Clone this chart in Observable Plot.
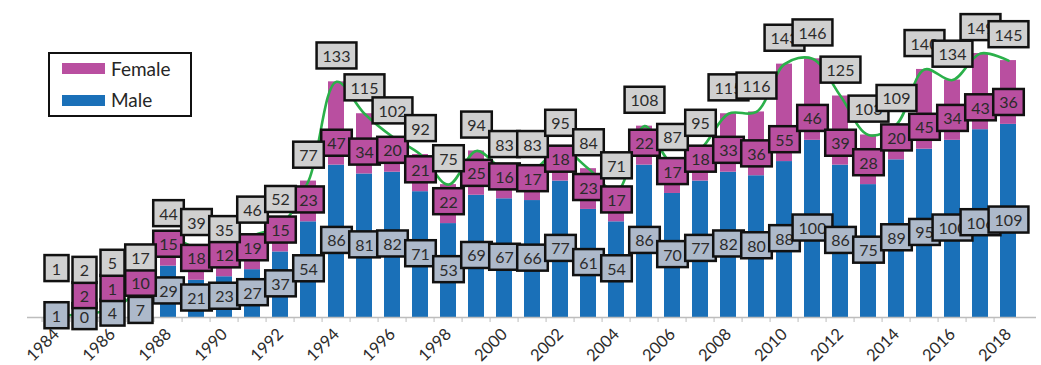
<!DOCTYPE html>
<html>
<head>
<meta charset="utf-8">
<script src="https://cdn.jsdelivr.net/npm/d3@7"></script>
<script src="https://cdn.jsdelivr.net/npm/@observablehq/plot@0.6"></script>
<style>
  body { margin: 0; background: #fff; }
  #wrap { position: relative; width: 1041px; height: 365px; }
  #legend { position: absolute; left: 48px; top: 52px; width: 140px; height: 61px;
            border: 2px solid #111; background: #fff; font-family: Lato, sans-serif;
            font-size: 19px; color: #262626; }
  .sw { position: absolute; left: 12px; width: 43px; height: 11px; }
  .lt { position: absolute; left: 61px; line-height: 1; }
</style>
</head>
<body>
<div id="wrap">
  <div id="chart"></div>
  <div id="legend">
    <div class="sw" id="swF" style="top:9px"></div><div class="lt" style="top:5px">Female</div>
    <div class="sw" id="swM" style="top:41px"></div><div class="lt" style="top:36px">Male</div>
  </div>
</div>
<script>
const years  = [1984,1985,1986,1987,1988,1989,1990,1991,1992,1993,1994,1995,1996,1997,1998,1999,2000,2001,2002,2003,2004,2005,2006,2007,2008,2009,2010,2011,2012,2013,2014,2015,2016,2017,2018];
const male   = [1,0,4,7,29,21,23,27,37,54,86,81,82,71,53,69,67,66,77,61,54,86,70,77,82,80,88,100,86,75,89,95,100,106,109];
const female = [0,2,1,10,15,18,12,19,15,23,47,34,20,21,22,25,16,17,18,23,17,22,17,18,33,36,55,46,39,28,20,45,34,43,36];
const totals = [1,2,5,17,44,39,35,46,52,77,133,115,102,92,75,94,83,83,95,84,71,108,87,95,115,116,143,146,125,103,109,140,134,149,145];
const seriesNames = ["Female", "Male"];

const BLUE = "#1a70b8", MAGENTA = "#b94fa0", GREEN = "#2bb04a";
const GRAY_BOX = "#d0d0d0", MALE_BOX = "#adb9ca", FEMALE_BOX = "#b94fa0";

const rows = years.map((yr, i) => ({year: String(yr), male: male[i], female: female[i], total: totals[i]}));

const W = 1041, ML = 27, MR = 5;
const step = (W - ML - MR) / years.length;

const chart = Plot.plot({
  width: W, height: 365,
  marginLeft: ML, marginRight: MR, marginTop: 33.5, marginBottom: 48,
  style: {fontFamily: "Lato, sans-serif", fontSize: "16px", color: "#2b2b2b", background: "#fff", overflow: "visible"},
  x: {type: "band", domain: years.map(String), paddingInner: 0.43, paddingOuter: 0.215, label: null},
  y: {domain: [0, 160], axis: null},
  marks: [
    Plot.barY(rows, {x: "year", y1: 0, y2: "male", fill: BLUE}),
    Plot.barY(rows, {x: "year", y1: "male", y2: "total", fill: MAGENTA}),
    Plot.ruleY([0], {stroke: "#bdbdbd", strokeWidth: 1.3}),
    Plot.axisX({tickSize: 5, text: null, dx: -step / 2, stroke: "#bdbdbd"}),
    Plot.line(rows, {x: "year", y: "total", stroke: GREEN, strokeWidth: 2.6, curve: "catmull-rom"}),
    Plot.text(rows, {x: "year", y: d => d.male / 2, text: "male", fill: "#2b2b2b", fontSize: 16}),
    Plot.text(rows.filter(d => d.female > 0), {x: "year", y: "male", dy: -21, text: "female", fill: "#2b2b2b", fontSize: 16}),
    Plot.text(rows, {x: "year", y: d => Math.max(d.total, d.male + 12), dy: -25, text: "total", fill: "#2b2b2b", fontSize: 16}),
    Plot.axisX({ticks: years.filter(y => y % 2 === 0).map(String), tickSize: 0, tickPadding: 14,
                tickRotate: -45, fontSize: 16.5, fill: "#2b2b2b"})
  ]
});

document.getElementById("chart").append(chart);
document.getElementById("swF").style.background = MAGENTA;
document.getElementById("swM").style.background = BLUE;

function boxLabels(g, fill) {
  if (!g) return;
  for (const t of Array.from(g.querySelectorAll("text"))) {
    const b = t.getBBox();
    const w = Math.max(b.width + 12, 24);
    const r = document.createElementNS("http://www.w3.org/2000/svg", "rect");
    r.setAttribute("x", b.x + b.width / 2 - w / 2);
    r.setAttribute("y", b.y - 3.5);
    r.setAttribute("width", w);
    r.setAttribute("height", b.height + 7);
    if (t.getAttribute("transform")) r.setAttribute("transform", t.getAttribute("transform"));
    r.setAttribute("fill", fill);
    r.setAttribute("stroke", "#111");
    r.setAttribute("stroke-width", 2.5);
    t.parentNode.insertBefore(r, t);
  }
}
const svg = chart.tagName.toLowerCase() === "svg" ? chart : chart.querySelector("svg");
const textGroups = Array.from(svg.querySelectorAll(':scope > g[aria-label="text"]'));
boxLabels(textGroups[0], MALE_BOX);
boxLabels(textGroups[1], FEMALE_BOX);
boxLabels(textGroups[2], GRAY_BOX);
</script>
</body>
</html>
